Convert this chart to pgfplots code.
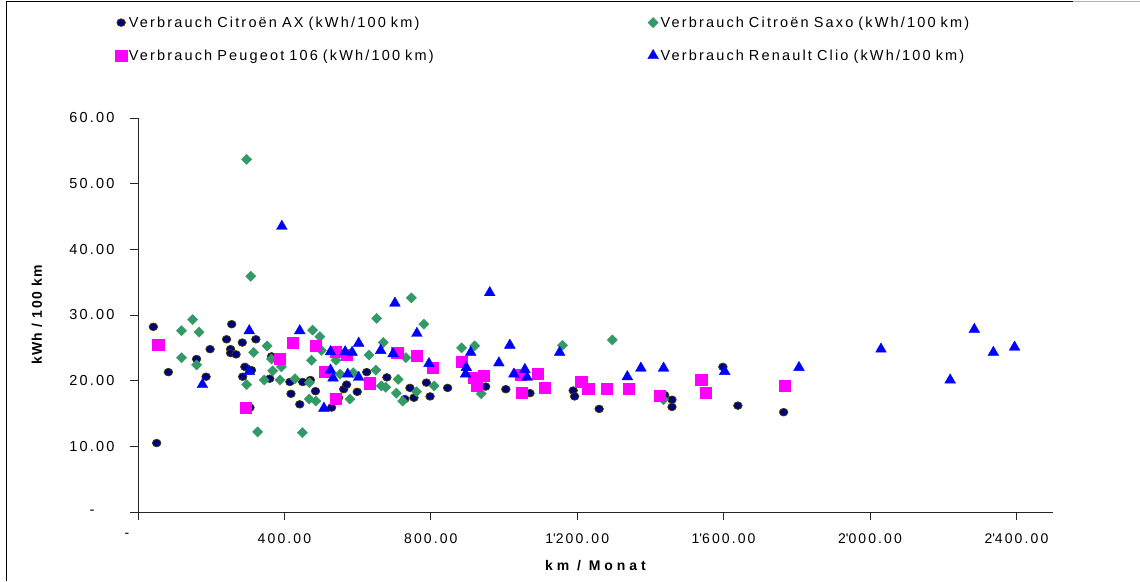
\documentclass[border=0pt]{standalone}
\usepackage{fontspec}
\setmainfont{Liberation Sans}
\newfontfamily\tickfont{Liberation Sans}[LetterSpace=15]
\newfontfamily\legfont{Liberation Sans}[LetterSpace=15]
\newfontfamily\xlabfont{Liberation Sans}[LetterSpace=28]
\newfontfamily\ylabfont{Liberation Sans}[LetterSpace=10]
\newcommand\ws{\hspace{5pt}}
\usepackage{pgfplots}
\pgfplotsset{compat=1.18}
\definecolor{axfill}{RGB}{0,0,128}
\definecolor{axedge}{RGB}{60,60,0}
\definecolor{saxo}{RGB}{51,153,102}
\definecolor{peug}{RGB}{255,0,255}
\definecolor{clio}{RGB}{0,0,255}
\begin{document}
\begin{tikzpicture}[x=1pt,y=1pt]
\useasboundingbox (0,0) rectangle (1140,581);
\fill[white] (0,0) rectangle (1140,581);
\draw[line width=1pt] (6,0) -- (6,579.5) -- (1073,579.5);
\draw[line width=1pt, gray!60] (1073,579.5) -- (1140,579.5);
\begin{axis}[
  at={(138pt,69pt)}, anchor=south west,
  scale only axis, width=915pt, height=394pt,
  xmin=0, xmax=2500, ymin=0, ymax=60,
  clip=false,
  axis lines*=left,
  axis line style={black!85, line width=0.9pt},
  tick style={black!85, line width=0.9pt},
  tick align=outside, major tick length=8pt,
  xtick={0,400,800,1200,1600,2000,2400},
  xticklabels={-\kern22pt, 400.00, 800.00, 1\textquotesingle 200.00, 1\textquotesingle 600.00, 2\textquotesingle 000.00, 2\textquotesingle 400.00},
  ytick={0,10,20,30,40,50,60},
  yticklabels={-\kern20pt, 10.00, 20.00, 30.00, 40.00, 50.00, 60.00},
  xticklabel style={font=\tickfont\fontsize{14}{16}\selectfont, yshift=-10pt},
  yticklabel style={font=\tickfont\fontsize{14.5}{16}\selectfont, xshift=-12pt},
  xlabel={\bfseries km / Monat},
  ylabel={\bfseries kWh / 100 km},
  xlabel style={font=\xlabfont\fontsize{14}{15}\selectfont, at={(axis description cs:0.5,-0.137)}, anchor=center},
  ylabel style={font=\ylabfont\fontsize{14}{15}\selectfont, at={(axis description cs:-0.1104,0.5)}, anchor=center, rotate=0},
  legend columns=2,
  legend style={draw=none, fill=none, at={(axis description cs:-0.028,1.268)}, anchor=north west,
    font=\legfont\fontsize{14.5}{16}\selectfont,
    nodes={text width=517pt, align=left, inner sep=2pt},
    row sep=17pt, column sep=0pt},
  legend image code/.code={\draw[#1] plot coordinates {(5pt,0pt)};},
]
\addplot[only marks, mark=*, mark size=3.8pt, mark options={fill=axfill, draw=axedge, line width=0.8pt, xscale=1.12}] coordinates {
(42,28.2)(51,10.5)(83,21.3)(160,23.3)(186,20.6)(197,24.8)(242,26.3)(253,24.8)(253,24.2)(256,28.6)
(268,24.0)(285,25.8)(286,20.6)(292,22.1)(306,15.9)(310,21.6)(322,26.3)(360,20.3)(365,23.7)(415,19.8)
(418,18.0)(442,16.4)(450,19.8)(471,20.1)(485,18.4)(529,15.9)(548,17.4)(562,18.7)(570,19.4)(599,18.3)
(625,21.3)(680,20.5)(729,17.2)(743,18.9)(754,17.4)(788,19.7)(798,17.6)(846,18.9)(950,19.1)(1005,18.7)
(1071,18.1)(1189,18.5)(1193,17.6)(1260,15.7)(1439,17.8)(1459,17.1)(1459,16.0)(1598,22.1)(1639,16.2)(1764,15.2)
};
\addlegendentry{Verbrauch\ws Citroën\ws AX\ws (kWh/100\ws km)}
\addplot[only marks, mark=square*, mark size=3.6pt, mark options={rotate=45, fill=saxo, draw=saxo}] coordinates {
(119,27.6)(149,29.3)(167,27.4)(119,23.5)(160,22.4)(297,53.7)(308,35.9)(297,19.4)(316,24.3)(327,12.2)
(345,20.1)(353,25.3)(365,23.3)(368,21.5)(388,20.1)(392,22.1)(429,20.3)(449,12.1)(468,19.7)(468,17.2)
(474,23.1)(477,27.7)(486,16.9)(497,26.7)(501,24.6)(541,23.1)(552,21.0)(579,17.2)(588,21.2)(631,23.9)
(650,21.6)(652,29.5)(665,19.2)(670,25.8)(677,19.0)(706,18.1)(711,20.2)(723,16.9)(732,23.5)(747,32.6)
(761,18.3)(781,28.6)(809,19.2)(884,25.0)(920,25.3)(938,18.0)(1160,25.4)(1296,26.2)(1436,17.1)
};
\addlegendentry{Verbrauch\ws Citroën\ws Saxo\ws (kWh/100\ws km)}
\addplot[only marks, mark=square*, mark size=5.6pt, mark options={fill=peug, draw=peug}] coordinates {
(55,25.5)(294,15.9)(388,23.3)(422,25.8)(485,25.3)(511,21.4)(541,24.4)(541,17.2)(570,23.9)(632,19.6)
(708,24.3)(761,23.8)(806,22.0)(885,22.9)(917,20.5)(926,19.2)(945,20.8)(1046,20.9)(1049,18.2)(1093,21.1)
(1111,18.9)(1211,19.9)(1230,18.8)(1281,18.8)(1341,18.8)(1425,17.7)(1539,20.1)(1551,18.2)(1768,19.2)
};
\addlegendentry{Verbrauch\ws Peugeot\ws 106\ws (kWh/100\ws km)}
\addplot[only marks, mark=triangle*, mark size=6.2pt, mark options={fill=clio, draw=clio}] coordinates {
(176,19.4)(304,27.6)(304,21.4)(393,43.5)(442,27.6)(508,15.8)(526,24.4)(526,21.6)(533,20.4)(566,24.4)
(573,21.0)(585,24.3)(603,25.7)(603,20.5)(663,24.6)(697,24.1)(702,31.8)(762,27.2)(795,22.6)(895,21.0)
(897,22.0)(909,24.3)(961,33.4)(986,22.7)(1016,25.4)(1027,21.0)(1057,21.7)(1063,20.5)(1152,24.3)(1337,20.6)
(1374,21.9)(1436,21.9)(1603,21.4)(1806,22.0)(2030,24.8)(2219,20.1)(2285,27.8)(2337,24.3)(2395,25.1)
};
\addlegendentry{Verbrauch\ws Renault\ws Clio\ws (kWh/100\ws km)}
\end{axis}
\end{tikzpicture}
\end{document}
